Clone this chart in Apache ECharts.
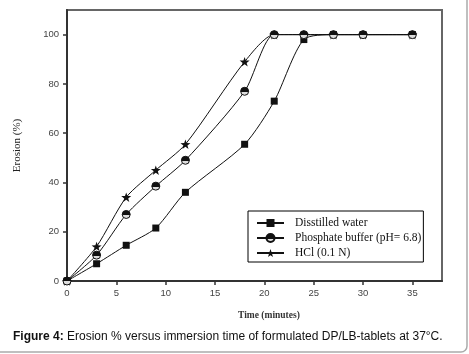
<!DOCTYPE html>
<html>
<head>
<meta charset="utf-8">
<script src="https://cdn.jsdelivr.net/npm/echarts@6/dist/echarts.min.js"></script>
<style>
  html, body { margin: 0; padding: 0; background: #fff; }
  #chart { width: 469px; height: 354px; }
</style>
</head>
<body>
<div id="chart"></div>
<script>
var timeMin = [0, 3, 6, 9, 12, 18, 21, 24, 27, 30, 35];
var distilled = [0, 7, 14.5, 21.5, 36, 55.5, 73, 98, 100, 100, 100];
var phosphate = [0, 10.5, 27, 38.5, 49, 77, 100, 100, 100, 100, 100];
var hcl = [0, 14, 34, 45, 55.5, 89, 100, 100, 100, 100, 100];
var xTicks = [0, 5, 10, 15, 20, 25, 30, 35];
var yTicks = [0, 20, 40, 60, 80, 100];
var names = ['Disstilled water', 'Phosphate buffer (pH= 6.8)', 'HCl (0.1 N)'];

var starPath = 'path://M0,-10L2.35,-3.24L9.51,-3.09L3.8,1.24L5.88,8.09L0,4L-5.88,8.09L-3.8,1.24L-9.51,-3.09L-2.35,-3.24Z';

function pairs(ys) {
  return timeMin.map(function (t, i) { return [t, ys[i]]; });
}

var chartDom = document.getElementById('chart');
var myChart = echarts.init(chartDom);
var option;

var lineStyle = { color: '#111', width: 1 };

option = {
  animation: false,
  grid: {
    left: 67, top: 10, right: 27, bottom: 73,
    show: true, borderColor: '#666', borderWidth: 2
  },
  xAxis: {
    type: 'value',
    min: 0, max: 38,
    axisLine: { lineStyle: { color: '#333', width: 2 } },
    axisTick: { length: 4, lineStyle: { color: '#333', width: 1.5 }, customValues: xTicks },
    axisLabel: { color: '#444', fontSize: 9.5, fontFamily: 'Liberation Sans', margin: 7, customValues: xTicks },
    splitLine: { show: false }
  },
  yAxis: {
    type: 'value',
    min: 0, max: 110,
    name: 'Erosion (%)',
    nameLocation: 'middle',
    nameGap: 44,
    nameTextStyle: { fontFamily: 'Liberation Serif', fontSize: 11, color: '#222' },
    axisLine: { lineStyle: { color: '#333', width: 2 } },
    axisTick: { length: 4, lineStyle: { color: '#333', width: 1.5 }, customValues: yTicks },
    axisLabel: { color: '#444', fontSize: 9.5, fontFamily: 'Liberation Sans', margin: 8, customValues: yTicks },
    splitLine: { show: false }
  },
  legend: {
    data: names,
    orient: 'vertical',
    left: 248, top: 211,
    padding: [6, 2, 3, 8],
    itemWidth: 27, itemHeight: 10, itemGap: 3,
    backgroundColor: '#fff',
    borderColor: '#000', borderWidth: 1, borderRadius: 0,
    textStyle: { fontFamily: 'Liberation Serif', fontSize: 11.5, color: '#111', padding: [0, 0, 0, 6] }
  },
  series: [
    {
      name: names[0], type: 'line', data: pairs(distilled), z: 2,
      smooth: 0.25,
      symbol: 'rect', symbolSize: 7,
      itemStyle: { color: '#111' }, lineStyle: lineStyle
    },
    {
      name: names[1], type: 'line', data: pairs(phosphate), z: 4,
      smooth: 0.25,
      symbol: 'circle', symbolSize: 8,
      itemStyle: {
        borderColor: '#111', borderWidth: 1,
        color: {
          type: 'linear', x: 0, y: 0, x2: 0, y2: 1,
          colorStops: [
            { offset: 0, color: '#111' },
            { offset: 0.55, color: '#111' },
            { offset: 0.55, color: '#ddd' },
            { offset: 1, color: '#ddd' }
          ]
        }
      },
      lineStyle: lineStyle
    },
    {
      name: names[2], type: 'line', data: pairs(hcl), z: 3,
      smooth: 0.25,
      symbol: starPath, symbolSize: 10, symbolKeepAspect: true,
      itemStyle: { color: '#111' }, lineStyle: lineStyle
    }
  ],
  graphic: [
    {
      type: 'rect', silent: true, z: -1,
      shape: { x: -10, y: -10, width: 477, height: 362, r: 6 },
      style: { fill: 'none', stroke: '#aaa', lineWidth: 1.5 }
    },
    {
      type: 'text', left: 238, top: 311,
      style: { text: 'Time (minutes)', font: 'bold 9.5px "Liberation Serif"', fill: '#333' }
    },
    {
      type: 'text', left: 13, top: 331,
      style: {
        text: '{b|Figure 4:} Erosion % versus immersion time of formulated DP/LB-tablets at 37°C.',
        font: '12px "Liberation Sans"', fill: '#111',
        rich: { b: { fontWeight: 'bold', fontSize: 12, fontFamily: 'Liberation Sans', fill: '#111' } }
      }
    }
  ]
};

option && myChart.setOption(option);
</script>
</body>
</html>
